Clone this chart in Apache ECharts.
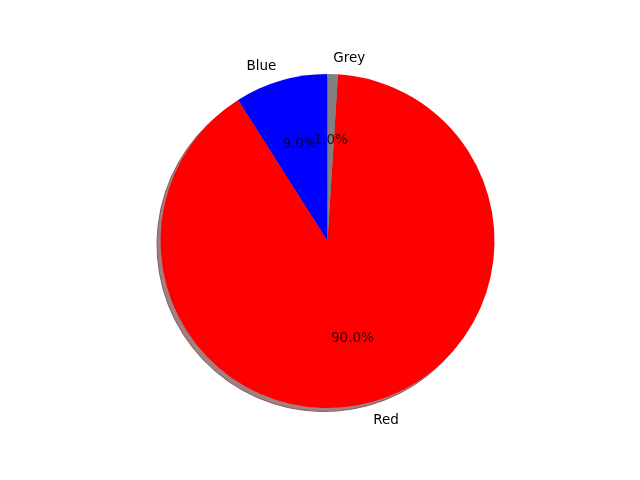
<!DOCTYPE html>
<html>
<head>
<meta charset="utf-8">
<script src="https://cdn.jsdelivr.net/npm/echarts@6/dist/echarts.min.js"></script>
<style>
  html, body { margin: 0; padding: 0; background: #fff; }
  #main { width: 640px; height: 480px; }
</style>
</head>
<body>
<div id="main"></div>
<script>
// data
var labels = ['Blue', 'Red', 'Grey'];
var sizes = [9, 90, 1];
var colors = ['#0000ff', '#ff0000', '#808080'];

var cx = 327.5, cy = 241, R = 167;
var font = 'DejaVu Sans';
var fs = 13.5;

var chart = echarts.init(document.getElementById('main'));

var total = sizes.reduce(function (a, b) { return a + b; }, 0);

var sliceData = labels.map(function (name, i) {
    return { name: name, value: sizes[i], itemStyle: { color: colors[i] } };
});
var shadowData = labels.map(function (name, i) {
    return { name: name, value: sizes[i] };
});

// percentage texts sit at 0.6 radius, mid angle of each wedge (polar coords)
var pctData = [];
var acc = 0;
sizes.forEach(function (v, i) {
    pctData.push({
        name: labels[i],
        value: [0.6, acc + v / 2],
        label: { formatter: (v / total * 100).toFixed(1) + '%' }
    });
    acc += v;
});

var option = {
    backgroundColor: '#ffffff',
    animation: false,
    polar: { center: [cx, cy], radius: R },
    angleAxis: {
        type: 'value', min: 0, max: total, startAngle: 90, clockwise: false,
        show: false
    },
    radiusAxis: { type: 'value', min: 0, max: 1, show: false },
    series: [
        {
            // shadow
            type: 'pie',
            silent: true,
            center: [cx - 3.5, cy + 3.5],
            radius: R,
            startAngle: 90,
            clockwise: false,
            label: { show: false },
            labelLine: { show: false },
            itemStyle: { color: '#a08080', borderColor: '#8c5a5a', borderWidth: 1 },
            data: shadowData,
            z: 1
        },
        {
            type: 'pie',
            center: [cx, cy],
            radius: R,
            startAngle: 90,
            clockwise: false,
            avoidLabelOverlap: false,
            label: {
                show: true,
                position: 'outside',
                distanceToLabelLine: 0,
                offset: [0, 1.5],
                color: '#000',
                fontFamily: font,
                fontSize: fs,
                formatter: '{b}'
            },
            labelLine: { show: false, length: R * 0.1, length2: 0 },
            emphasis: { scale: false },
            data: sliceData,
            z: 2
        },
        {
            type: 'scatter',
            coordinateSystem: 'polar',
            silent: true,
            symbolSize: 2,
            itemStyle: { color: 'rgba(0,0,0,0)' },
            label: {
                show: true,
                position: 'inside',
                offset: [0, 1],
                color: '#000',
                fontFamily: font,
                fontSize: fs
            },
            labelLayout: { hideOverlap: false },
            data: pctData,
            z: 5
        }
    ]
};

chart.setOption(option);
</script>
</body>
</html>
